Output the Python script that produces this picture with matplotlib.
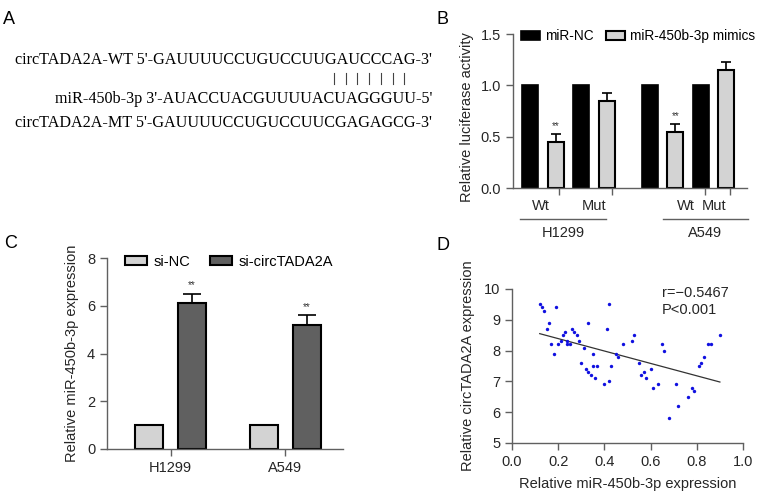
import numpy as np
import matplotlib
matplotlib.use('Agg')
import matplotlib.pyplot as plt
from matplotlib.lines import Line2D

plt.rcParams['font.family'] = ['Liberation Sans', 'DejaVu Sans']

W, H = 772, 497

# ---- data ----
# panel A sequences
seq_wt = "circTADA2A-WT 5'-GAUUUUCCUGUCCUUGAUCCCAG-3'"
seq_mir = "miR-450b-3p 3'-AUACCUACGUUUUACUAGGGUU-5'"
seq_mt = "circTADA2A-MT 5'-GAUUUUCCUGUCCUUCGAGAGCG-3'"

# panel B luciferase
b_groups = ['Wt', 'Mut', 'Wt', 'Mut']
b_cells = ['H1299', 'A549']
b_nc = [1.0, 1.0, 1.0, 1.0]
b_mimic = [0.45, 0.85, 0.55, 1.15]
b_mimic_err = [0.075, 0.075, 0.075, 0.075]
b_sig = ['**', '', '**', '']

# panel C qPCR
c_cells = ['H1299', 'A549']
c_sinc = [1.0, 1.0]
c_sicirc = [6.1, 5.2]
c_sicirc_err = [0.4, 0.4]
c_sig = ['**', '**']

# panel D scatter
d_mir = [0.12, 0.13, 0.14, 0.15, 0.16, 0.17, 0.18, 0.19, 0.20, 0.21, 0.22, 0.23,
         0.24, 0.24, 0.25, 0.26, 0.27, 0.28, 0.29, 0.30, 0.31, 0.32, 0.33, 0.33,
         0.34, 0.35, 0.35, 0.36, 0.37, 0.40, 0.41, 0.42, 0.42, 0.43, 0.45, 0.46,
         0.48, 0.52, 0.53, 0.55, 0.56, 0.57, 0.58, 0.60, 0.61, 0.63, 0.65, 0.66,
         0.68, 0.71, 0.72, 0.76, 0.78, 0.79, 0.81, 0.82, 0.83, 0.85, 0.86, 0.90]
d_circ = [9.5, 9.4, 9.3, 8.7, 8.9, 8.2, 7.9, 9.4, 8.2, 8.3, 8.5, 8.6,
          8.3, 8.2, 8.2, 8.7, 8.6, 8.5, 8.3, 7.6, 8.1, 7.4, 8.9, 7.3,
          7.2, 7.9, 7.5, 7.1, 7.5, 6.9, 8.7, 9.5, 7.0, 7.5, 7.9, 7.8,
          8.2, 8.3, 8.5, 7.6, 7.2, 7.3, 7.1, 7.4, 6.8, 6.9, 8.2, 8.0,
          5.8, 6.9, 6.2, 6.5, 6.8, 6.7, 7.5, 7.6, 7.8, 8.2, 8.2, 8.5]

FS = 10.5
TXT = '#262626'
AXC = '#606060'


def px_axes(fig, x0, y0, x1, y1):
    # pixel box (left, top, right, bottom) -> figure axes
    return fig.add_axes([x0 / W, 1 - y1 / H, (x1 - x0) / W, (y1 - y0) / H])


def style_axes(ax):
    for s in ['top', 'right']:
        ax.spines[s].set_visible(False)
    for s in ['left', 'bottom']:
        ax.spines[s].set_color(AXC)
        ax.spines[s].set_linewidth(1.0)
    ax.tick_params(colors=AXC, labelcolor=TXT, length=5, width=1.0, labelsize=FS)


fig = plt.figure(figsize=(W / 100, H / 100), dpi=100)

# ---- panel A ----
serif = ['Liberation Serif', 'DejaVu Serif']
fig.text(3 / W, 1 - 20 / H, 'A', fontsize=13, va='center', ha='left')
fig.text(432 / W, 1 - 60 / H, seq_wt, family=serif, fontsize=11.6, ha='right', va='center')
fig.text(432 / W, 1 - 99 / H, seq_mir, family=serif, fontsize=11.6, ha='right', va='center')
fig.text(432 / W, 1 - 123 / H, seq_mt, family=serif, fontsize=11.6, ha='right', va='center')
for k in range(7):
    xx = (334 + k * 11.7) / W
    fig.add_artist(Line2D([xx, xx], [1 - 73 / H, 1 - 84 / H], color='#444444', lw=0.8))

# ---- panel B ----
fig.text(437 / W, 1 - 20 / H, 'B', fontsize=13, va='center', ha='left')
axb = px_axes(fig, 513, 34, 747, 188)
style_axes(axb)
xnc = np.array([0, 2, 4.7, 6.7])
xmi = xnc + 1
bw = 0.63
axb.bar(xnc, b_nc, bw, color='black', edgecolor='black', lw=1.2, label='miR-NC')
axb.bar(xmi, b_mimic, bw, color='#d3d3d3', edgecolor='black', lw=1.5,
        label='miR-450b-3p mimics')
axb.errorbar(xmi, b_mimic, yerr=[np.zeros(4), b_mimic_err], fmt='none',
             ecolor='black', elinewidth=1.2, capsize=3.5, capthick=1.2)
for xi, v, e, s in zip(xmi, b_mimic, b_mimic_err, b_sig):
    if s:
        axb.text(xi, v + e + 0.03, s, ha='center', va='bottom', fontsize=7, color='#333333')
axb.set_xlim(-0.67, 8.51)
axb.set_ylim(0, 1.5)
axb.set_yticks([0, 0.5, 1.0, 1.5])
axb.set_yticklabels(['0.0', '0.5', '1.0', '1.5'])
axb.set_xticks([1.14, 3.22, 6.86, 7.84])
axb.set_xticklabels([])
axb.set_ylabel('Relative luciferase activity', fontsize=FS, color=TXT, labelpad=5, y=0.46)
for xp, lab in zip([541, 594, 686, 714], b_groups):
    fig.text(xp / W, 1 - 206 / H, lab, ha='center', va='center', fontsize=FS, color=TXT)
for (x0, x1), lab in zip([(520, 606), (663, 748)], b_cells):
    fig.add_artist(Line2D([x0 / W, x1 / W], [1 - 219 / H, 1 - 219 / H], color=AXC, lw=1.0))
    fig.text((x0 + x1) / 2 / W, 1 - 233 / H, lab, ha='center', va='center', fontsize=FS,
             color=TXT)
axb.legend(loc='center left', bbox_to_anchor=(0.035, 0.985), ncol=2, frameon=False,
           fontsize=9.8, handlelength=1.4, handleheight=0.55, handletextpad=0.35,
           columnspacing=0.9, borderaxespad=0, borderpad=0)

# ---- panel C ----
fig.text(4 / W, 1 - 243 / H, 'C', fontsize=13, va='center', ha='left')
axc = px_axes(fig, 107, 258, 343, 449)
style_axes(axc)
xs = np.array([0, 2.67])
xd = xs + 1
cw = 0.65
axc.bar(xs, c_sinc, cw, color='#d3d3d3', edgecolor='black', lw=1.5, label='si-NC')
axc.bar(xd, c_sicirc, cw, color='#606060', edgecolor='black', lw=1.5, label='si-circTADA2A')
axc.errorbar(xd, c_sicirc, yerr=[np.zeros(2), c_sicirc_err], fmt='none',
             ecolor='black', elinewidth=1.2, capsize=6.5, capthick=1.2)
for xi, v, e, s in zip(xd, c_sicirc, c_sicirc_err, c_sig):
    axc.text(xi, v + e + 0.15, s, ha='center', va='bottom', fontsize=7, color='#333333')
axc.set_xlim(-0.98, 4.51)
axc.set_ylim(0, 8)
axc.set_yticks([0, 2, 4, 6, 8])
axc.set_xticks((xs + xd) / 2)
axc.set_xticklabels(c_cells)
axc.set_ylabel('Relative miR-450b-3p expression', fontsize=FS, color=TXT, labelpad=6)
axc.legend(loc='center left', bbox_to_anchor=(0.075, 0.98), ncol=2, frameon=False,
           fontsize=FS, handlelength=1.5, handleheight=0.55, handletextpad=0.45,
           columnspacing=1.4, borderaxespad=0, borderpad=0)

# ---- panel D ----
fig.text(436 / W, 1 - 245 / H, 'D', fontsize=13, va='center', ha='left')
axd = px_axes(fig, 512, 289, 743, 443)
style_axes(axd)
x = np.array(d_mir)
y = np.array(d_circ)
axd.scatter(x, y, s=6, color='#1010e0', linewidths=0, zorder=3)
k, b0 = np.polyfit(x, y, 1)
xl = np.array([x.min(), x.max()])
axd.plot(xl, k * xl + b0, color='#333333', lw=0.9)
axd.text(0.65, 10.1, 'r=\u22120.5467\nP<0.001', fontsize=FS, va='top', ha='left',
         color=TXT, linespacing=1.25)
axd.set_xlim(0, 1.0)
axd.set_ylim(5, 10)
axd.set_xticks([0, 0.2, 0.4, 0.6, 0.8, 1.0])
axd.set_xticklabels(['0.0', '0.2', '0.4', '0.6', '0.8', '1.0'])
axd.set_yticks([5, 6, 7, 8, 9, 10])
axd.set_xlabel('Relative miR-450b-3p expression', fontsize=FS, color=TXT, labelpad=6)
axd.set_ylabel('Relative circTADA2A expression', fontsize=FS, color=TXT, labelpad=6)

fig.savefig('out.png', dpi=100)
